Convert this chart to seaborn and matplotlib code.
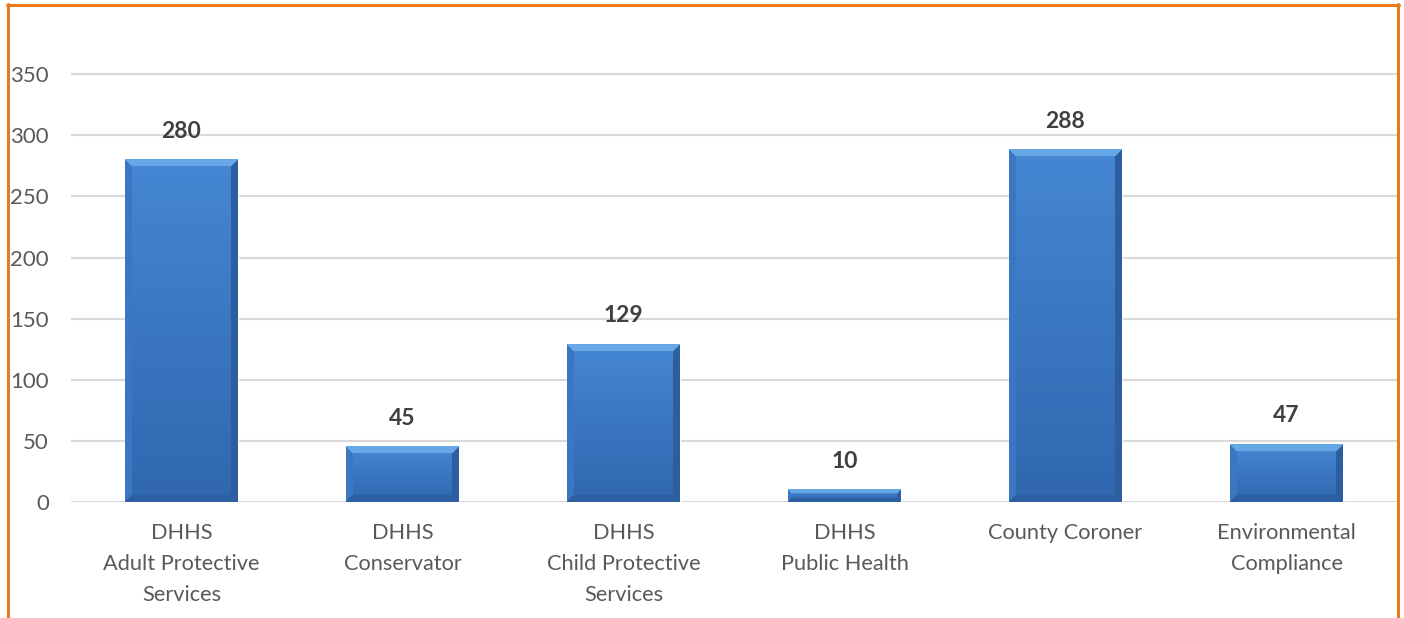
import numpy as np
import pandas as pd
import matplotlib
matplotlib.use("Agg")
import matplotlib.pyplot as plt
import seaborn as sns
from matplotlib.lines import Line2D

categories = [
    "DHHS\nAdult Protective\nServices",
    "DHHS\nConservator",
    "DHHS\nChild Protective\nServices",
    "DHHS\nPublic Health",
    "County Coroner",
    "Environmental\nCompliance",
]
values = [280, 45, 129, 10, 288, 47]
y_ticks = [0, 50, 100, 150, 200, 250, 300, 350]

df = pd.DataFrame({"category": categories, "value": values})

sns.set_theme(style="white")
plt.rcParams['font.family'] = ['Lato', 'DejaVu Sans']

W_PX, H_PX = 1404, 618
fig = plt.figure(figsize=(W_PX / 100, H_PX / 100), dpi=100)
fig.patch.set_facecolor("white")
ax = fig.add_axes([71 / W_PX, 116 / H_PX, 1326 / W_PX, 489 / H_PX])

sns.barplot(data=df, x="category", y="value", ax=ax, color="#3C7BC8",
            width=0.51, saturation=1, zorder=3)

ax.set_ylim(0, 400)
ax.set_xlim(-0.5, len(categories) - 0.5)
ax.set_yticks(y_ticks)
ax.set_yticklabels([str(t) for t in y_ticks])
ax.yaxis.grid(True, color="#D9D9D9", linewidth=1.5, zorder=0)
ax.set_axisbelow(True)
for s in ax.spines.values():
    s.set_visible(False)
ax.set_xlabel("")
ax.set_ylabel("")
ax.tick_params(axis="y", length=0, pad=16, labelsize=16, labelcolor="#595959")
ax.tick_params(axis="x", length=0, pad=15, labelsize=15.7, labelcolor="#595959")
for lbl in ax.get_xticklabels():
    lbl.set_linespacing(1.68)


def hexrgb(h):
    h = h.lstrip("#")
    return np.array([int(h[i:i + 2], 16) / 255 for i in (0, 2, 4)])


def bevel(w, h):
    b = max(2, min(7, h // 3))
    top_c = hexrgb("#66A8E6")
    left_c = hexrgb("#3B77C2")
    right_c = hexrgb("#2D5E9F")
    bot_c = hexrgb("#2D5FA3")
    body_top = hexrgb("#4587D3")
    body_bot = hexrgb("#3067AF")
    ii, jj = np.mgrid[0:h, 0:w]
    dt = ii
    db = h - 1 - ii
    dl = jj
    dr = w - 1 - jj
    t = (ii / max(h - 1, 1))[..., None]
    img = body_top * (1 - t) + body_bot * t
    d = np.stack([dt, db, dl, dr], axis=-1)
    which = np.argmin(d, axis=-1)
    dmin = np.min(d, axis=-1)
    inband = dmin < b
    cols = [top_c, bot_c, left_c, right_c]
    for k, c in enumerate(cols):
        m = inband & (which == k)
        img[m] = c
    return img


fig.canvas.draw()
for p in ax.patches:
    x0, y0 = p.get_x(), p.get_y()
    w, h = p.get_width(), p.get_height()
    (px0, py0) = ax.transData.transform((x0, y0))
    (px1, py1) = ax.transData.transform((x0 + w, y0 + h))
    Wp = max(int(round(px1 - px0)), 4)
    Hp = max(int(round(py1 - py0)), 4)
    img = bevel(Wp, Hp)
    ax.imshow(img, extent=(x0, x0 + w, y0, y0 + h), aspect="auto",
              origin="upper", zorder=4, interpolation="bilinear")

for i, v in enumerate(values):
    ax.annotate(str(v), (i, v), xytext=(0, 13), textcoords="offset points",
                ha="center", va="bottom", fontsize=16.5, fontweight="bold",
                color="#404040", zorder=5)

ax.set_xlim(-0.5, len(categories) - 0.5)
ax.set_ylim(0, 400)

orange = "#E97A1E"
lw = 2.2
fig.add_artist(Line2D([7 / W_PX, 1399 / W_PX], [1 - 5 / H_PX, 1 - 5 / H_PX],
                      transform=fig.transFigure, color=orange, lw=lw))
fig.add_artist(Line2D([7.5 / W_PX, 7.5 / W_PX], [0, 1 - 4 / H_PX],
                      transform=fig.transFigure, color=orange, lw=lw))
fig.add_artist(Line2D([1398 / W_PX, 1398 / W_PX], [0, 1 - 4 / H_PX],
                      transform=fig.transFigure, color=orange, lw=lw))

fig.savefig("out.png", dpi=100, facecolor="white")
